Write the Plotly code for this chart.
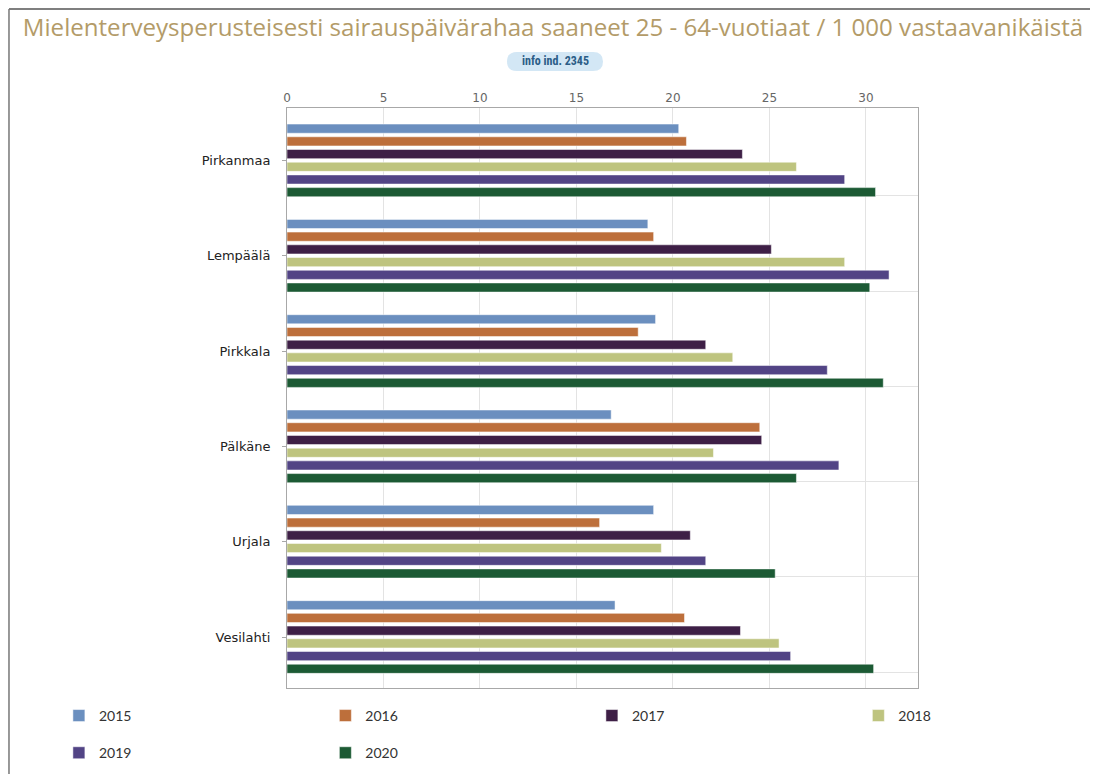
import plotly.graph_objects as go

title = "Mielenterveysperusteisesti sairauspäivärahaa saaneet 25 - 64-vuotiaat / 1 000 vastaavanikäistä"
badge = "info ind. 2345"
categories = ["Pirkanmaa", "Lempäälä", "Pirkkala", "Pälkäne", "Urjala", "Vesilahti"]
years = ["2015", "2016", "2017", "2018", "2019", "2020"]
colors = ["#6b8fbf", "#bd6f3b", "#3e1f46", "#bec47f", "#524485", "#1c5a34"]

v2015 = [20.3, 18.7, 19.1, 16.8, 19.0, 17.0]
v2016 = [20.7, 19.0, 18.2, 24.5, 16.2, 20.6]
v2017 = [23.6, 25.1, 21.7, 24.6, 20.9, 23.5]
v2018 = [26.4, 28.9, 23.1, 22.1, 19.4, 25.5]
v2019 = [28.9, 31.2, 28.0, 28.6, 21.7, 26.1]
v2020 = [30.5, 30.2, 30.9, 26.4, 25.3, 30.4]
series = [v2015, v2016, v2017, v2018, v2019, v2020]

x_ticks = [0, 5, 10, 15, 20, 25, 30]

positions = list(range(len(categories)))

# legend layout: 4 columns, 2 rows
legend_ids = ["legend", "legend2", "legend3", "legend4", "legend", "legend2"]
legend_cols_x = [-0.3615, 0.0608, 0.4832, 0.9055]

fig = go.Figure()
for i, (name, vals, col) in enumerate(zip(years, series, colors)):
    fig.add_trace(go.Bar(
        x=vals, y=positions, orientation="h", name=name,
        legend=legend_ids[i], legendgroup=name,
        marker=dict(color=col, line=dict(color="white", width=0.5)),
    ))

leg_font = dict(family="Lato, Open Sans, sans-serif", size=14, color="#333")
legend_common = dict(orientation="v", y=-0.0206, yanchor="top", xanchor="left",
                     tracegroupgap=16, bgcolor="rgba(0,0,0,0)", font=leg_font)

fig.update_layout(
    width=1098, height=774,
    paper_bgcolor="white", plot_bgcolor="white",
    margin=dict(l=279, r=188, t=100, b=94),
    barmode="group", bargap=0.2, bargroupgap=0.28,
    title=dict(text=title, x=0.4964, xanchor="center", y=0.9745, yanchor="middle",
               font=dict(family="Open Sans, Lato, sans-serif", size=24.1, color="#b39b68")),
    font=dict(family="DejaVu Sans, Verdana, sans-serif", size=12, color="#333"),
    xaxis=dict(side="top", range=[0, 32.7], tickvals=x_ticks, showgrid=True,
               gridcolor="#e3e3e3", gridwidth=1, zeroline=False, automargin=False,
               showline=True, linecolor="#a8a8a8", linewidth=1, mirror=True,
               ticks="", tickfont=dict(family="DejaVu Sans, sans-serif", size=12, color="#666")),
    yaxis=dict(range=[5.535, -0.55], tickmode="array", tickvals=positions, ticktext=categories,
               showgrid=False, zeroline=False, automargin=False,
               showline=True, linecolor="#a8a8a8", linewidth=1, mirror=True,
               ticks="outside", ticklen=4, tickcolor="#a8a8a8", ticklabelstandoff=9,
               tickfont=dict(family="DejaVu Sans, sans-serif", size=13, color="#222"),
               minor=dict(tickmode="array", tickvals=[p + 0.37 for p in positions],
                          showgrid=True, gridcolor="#e3e3e3", gridwidth=1, ticklen=0)),
    legend=dict(x=legend_cols_x[0], **legend_common),
    legend2=dict(x=legend_cols_x[1], **legend_common),
    legend3=dict(x=legend_cols_x[2], **legend_common),
    legend4=dict(x=legend_cols_x[3], **legend_common),
    showlegend=True,
)

# info badge (pill)
x0, x1, y0, y1 = 0.3487, 0.5008, 1.0638, 1.0966
rx = 0.0158
ym = (y0 + y1) / 2
path = (f"M {x0+rx} {y0} L {x1-rx} {y0} Q {x1} {y0} {x1} {ym} Q {x1} {y1} {x1-rx} {y1} "
        f"L {x0+rx} {y1} Q {x0} {y1} {x0} {ym} Q {x0} {y0} {x0+rx} {y0} Z")
fig.add_shape(type="path", xref="paper", yref="paper", path=path,
              fillcolor="#d3e7f5", line=dict(width=0), layer="above")
fig.add_annotation(text=f"<b>{badge}</b>", xref="paper", yref="paper", x=(x0 + x1) / 2, y=ym,
                   showarrow=False, xanchor="center", yanchor="middle",
                   font=dict(family="Liberation Sans Narrow, Roboto Condensed, sans-serif", size=12, color="#2b5d87"))

# outer frame (top and left edges visible)
fig.add_shape(type="line", xref="paper", yref="paper", x0=-0.4406, x1=1.3, y0=1.1707, y1=1.1707,
              line=dict(color="#555555", width=1.5), layer="below")
fig.add_shape(type="line", xref="paper", yref="paper", x0=-0.4406, x1=-0.4406, y0=-0.2, y1=1.1707,
              line=dict(color="#777777", width=1.5), layer="below")

fig.write_html("out.html")
